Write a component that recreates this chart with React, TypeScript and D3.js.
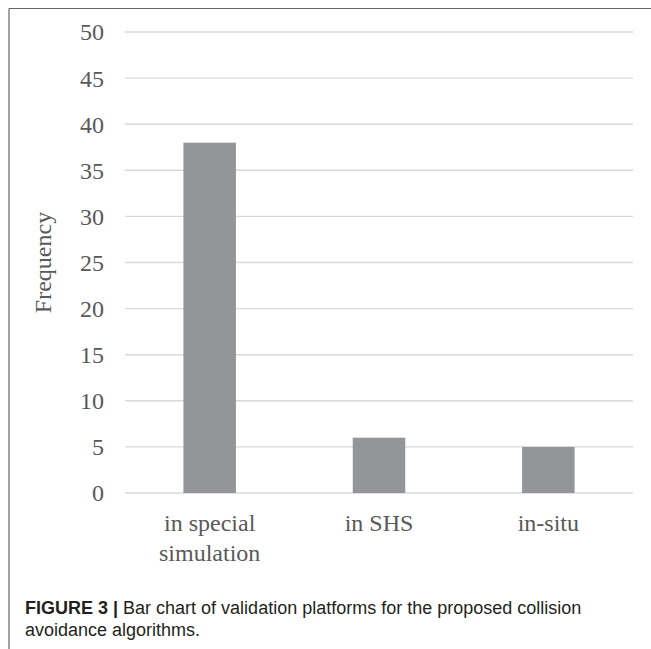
import React from "react";
import * as d3 from "d3";

const categories = ["in special\nsimulation", "in SHS", "in-situ"];
const values = [38, 6, 5];
const yTicks = [0, 5, 10, 15, 20, 25, 30, 35, 40, 45, 50];
const yTitle = "Frequency";
const captionBold = "FIGURE 3 |";
const captionLine1 = " Bar chart of validation platforms for the proposed collision";
const captionLine2 = "avoidance algorithms.";

const W = 651;
const H = 649;
const plot = { left: 125, right: 633, top: 32, bottom: 493 };

export default function App() {
  const x = d3
    .scaleBand<string>()
    .domain(categories)
    .range([plot.left, plot.right])
    .paddingInner(0.69)
    .paddingOuter(0.345);
  const y = d3.scaleLinear().domain([0, 50]).range([plot.bottom, plot.top]);
  const textColor = "#595959";
  const serif = "'Liberation Serif', 'Times New Roman', serif";
  const sans = "'Liberation Sans', Arial, sans-serif";
  return (
    <svg
      width={W}
      height={H}
      style={{ position: "absolute", left: 0, top: 0, background: "#fff" }}
    >
      <rect x={0} y={0} width={W} height={H} fill="#fff" />
      {/* frame */}
      <line x1={9} y1={8.5} x2={W} y2={8.5} stroke="#666" strokeWidth={1.2} />
      <line x1={9} y1={8.5} x2={9} y2={H} stroke="#666" strokeWidth={1.2} />
      {/* gridlines */}
      {yTicks.map((t) => (
        <line
          key={"g" + t}
          x1={plot.left}
          x2={plot.right}
          y1={y(t)}
          y2={y(t)}
          stroke="#d9d9d9"
          strokeWidth={1.4}
        />
      ))}
      {/* bars */}
      {categories.map((c, i) => (
        <rect
          key={"b" + i}
          x={x(c)}
          y={y(values[i])}
          width={x.bandwidth()}
          height={y(0) - y(values[i])}
          fill="#939598"
        />
      ))}
      {/* y tick labels */}
      {yTicks.map((t) => (
        <text
          key={"t" + t}
          x={104}
          y={y(t)}
          dy="0.35em"
          textAnchor="end"
          fontFamily={serif}
          fontSize={24}
          fill={textColor}
        >
          {t}
        </text>
      ))}
      {/* y title */}
      <text
        transform={`translate(51, ${(plot.top + plot.bottom) / 2}) rotate(-90)`}
        textAnchor="middle"
        fontFamily={serif}
        fontSize={24}
        fill={textColor}
      >
        {yTitle}
      </text>
      {/* x labels */}
      {categories.map((c, i) => {
        const cx = (x(c) as number) + x.bandwidth() / 2;
        return (
          <text
            key={"x" + i}
            textAnchor="middle"
            fontFamily={serif}
            fontSize={24}
            fill={textColor}
          >
            {c.split("\n").map((line, j) => (
              <tspan key={j} x={cx} y={531 + j * 30}>
                {line}
              </tspan>
            ))}
          </text>
        );
      })}
      {/* caption */}
      <text x={25} y={613.5} fontFamily={sans} fontSize={18} fill="#231f20">
        <tspan fontWeight="bold">{captionBold}</tspan>
        <tspan>{captionLine1}</tspan>
      </text>
      <text x={25} y={635.5} fontFamily={sans} fontSize={18} fill="#231f20">
        {captionLine2}
      </text>
    </svg>
  );
}
